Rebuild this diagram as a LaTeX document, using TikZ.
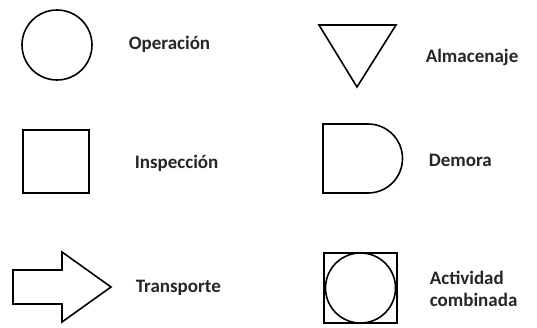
\documentclass[tikz,border=0pt]{standalone}
\usepackage{fontspec}
\setmainfont{Carlito}
\usetikzlibrary{positioning}
\begin{document}
\begin{tikzpicture}[x=1pt, y=-1pt, line width=1.6pt,
    symtext/.style={font=\fontsize{19}{22}\selectfont\bfseries, text=black!85, anchor=west, inner sep=0pt, align=left}]
    \useasboundingbox (0,0) rectangle (537,328);
    % left column
    \node[draw, circle, minimum size=70, inner sep=0pt] (oper) at (57,45) {};
    \node[symtext] (operTxt) at (128,44) {Operación};
    \node[draw, minimum width=66, minimum height=63, inner sep=0pt] (insp) at (56,161.5) {};
    \node[symtext] (inspTxt) at (134,163) {Inspección};
    \draw (13,270) -- (62,270) -- (62,252) -- (111,287) -- (62,322) -- (62,304) -- (13,304) -- cycle;
    \node[symtext] (transTxt) at (135,288) {Transporte};
    % right column
    \draw (319,25) -- (396,25) -- (357,87) -- cycle;
    \node[symtext] (almTxt) at (425,57) {Almacenaje};
    \draw (368,124) -- (323,124) -- (323,193) -- (368,193) arc[start angle=90, end angle=-90, radius=34.5] -- cycle;
    \node[symtext] (demTxt) at (428,160) {Demora};
    \node[draw, minimum width=73, minimum height=70, inner sep=0pt] (combSq) at (360.5,288) {};
    \node[draw, circle, minimum size=70, inner sep=0pt] (combCirc) at (combSq.center) {};
    \node[symtext] (combTxt) at (429,289) {Actividad\\combinada};
\end{tikzpicture}
\end{document}
